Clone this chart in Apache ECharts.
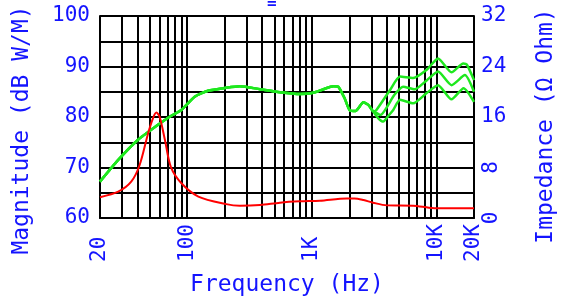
<!DOCTYPE html>
<html>
<head>
    <meta charset="utf-8">
    <title>Frequency response</title>
    <script src="https://cdn.jsdelivr.net/npm/echarts@6/dist/echarts.min.js"></script>
</head>
<body style="margin:0">
    <div id="main" style="width: 561px;height:296px;"></div>
    <script>
        // grid lines of the log frequency axis and its labels
        var gridFreqs = [20, 30, 40, 50, 60, 70, 80, 90, 100, 200, 300, 400, 500, 600, 700, 800, 900,
            1000, 2000, 3000, 4000, 5000, 6000, 7000, 8000, 9000, 10000, 20000];
        var labelFreqs = [20, 100, 1000, 10000, 20000];

        // magnitude, common part below ~3 kHz (dB)
        var lowFreq = [20, 28, 40, 58, 74, 90, 115, 147, 206, 265, 384, 555, 803, 1030, 1240, 1490, 1630, 1840, 2020, 2250, 2590, 2840, 3110];
        var lowDb = [67.2, 71.5, 75.4, 78.4, 80.2, 81.4, 84.0, 85.2, 85.8, 86.1, 85.5, 84.9, 84.55, 84.8, 85.5, 86.1, 86.0, 83.6, 81.3, 81.2, 82.9, 82.4, 81.1];

        // the three curves above 3 kHz
        var topFreq = [3300, 4230, 5100, 6500, 8300, 10300, 13200, 16400, 17500, 20000];
        var topDb = [81.4, 85.3, 88.0, 87.7, 89.3, 91.6, 88.85, 90.6, 90.4, 87.3];
        var midFreq = [3300, 3550, 4600, 5400, 6700, 8300, 10300, 13200, 16900, 20000];
        var midDb = [80.8, 80.4, 84.4, 86.0, 85.5, 87.2, 89.0, 86.3, 88.3, 85.0];
        var botFreq = [3400, 3740, 4200, 4500, 5100, 6500, 8300, 10300, 13200, 16500, 20000];
        var botDb = [79.8, 79.1, 80.5, 81.4, 83.4, 82.7, 84.7, 86.3, 83.5, 85.7, 83.0];

        // impedance (ohm)
        var zFreq = [20, 28, 35.6, 41.6, 48.6, 53.2, 56.6, 60.2, 66.3, 74, 90, 123, 206, 265, 384, 555, 803, 1160, 1900, 2200, 2600, 3100, 4000, 6500, 8700, 10500, 20000];
        var zOhm = [3.3, 4.17, 5.75, 8.4, 13.4, 15.8, 16.7, 16.0, 12.4, 8.1, 5.5, 3.4, 2.2, 1.95, 2.06, 2.43, 2.64, 2.74, 3.1, 3.1, 2.85, 2.43, 2.0, 1.95, 1.63, 1.53, 1.53];

        function pairs(fs, vs) {
            return fs.map(function (f, i) { return [f, vs[i]]; });
        }

        var blue = '#1414ff';
        var green = '#1ee81e';
        var font = 'DejaVu Sans Mono';

        var myChart = echarts.init(document.getElementById('main'));

        var greenLine = function (extraF, extraV) {
            return {
                type: 'line',
                yAxisIndex: 0,
                symbol: 'none',
                smooth: 0.2,
                lineStyle: { color: green, width: 2.5 },
                data: pairs(lowFreq.concat(extraF), lowDb.concat(extraV))
            };
        };

        option = {
            animation: false,
            title: {
                text: '=',
                left: 262,
                top: -9,
                textStyle: { color: blue, fontSize: 16, fontFamily: font, fontWeight: 'bold' }
            },
            grid: { left: 100, right: 87, top: 16, bottom: 78, outerBoundsMode: 'none' },
            xAxis: {
                type: 'log',
                min: 20,
                max: 20000,
                name: 'Frequency (Hz)',
                nameLocation: 'middle',
                nameGap: 56,
                nameTextStyle: { color: blue, fontSize: 23, fontFamily: font },
                axisLine: { show: true, lineStyle: { color: '#000', width: 2 } },
                axisTick: { show: false, customValues: gridFreqs },
                axisLabel: {
                    customValues: labelFreqs,
                    rotate: 90,
                    align: 'left',
                    margin: 44,
                    color: blue,
                    fontSize: 21,
                    fontFamily: font,
                    formatter: function (v) {
                        return v >= 1000 ? (v / 1000) + 'K' : String(v);
                    }
                },
                splitLine: { show: true, lineStyle: { color: '#000', width: 2 } }
            },
            yAxis: [{
                type: 'value',
                min: 60,
                max: 100,
                interval: 5,
                name: 'Magnitude (dB W/M)',
                nameLocation: 'middle',
                nameRotate: 90,
                nameGap: 66,
                nameTextStyle: { color: blue, fontSize: 23, fontFamily: font, padding: [0, 26, 0, 0] },
                axisLine: { show: true, lineStyle: { color: '#000', width: 2 } },
                axisTick: { show: false },
                axisLabel: {
                    color: blue, fontSize: 21, fontFamily: font, margin: 10,
                    formatter: function (v) { return v % 10 === 0 ? String(v) : ''; }
                },
                splitLine: { show: true, lineStyle: { color: '#000', width: 2 } }
            }, {
                type: 'value',
                position: 'right',
                min: 0,
                max: 32,
                interval: 8,
                name: 'Impedance (Ω Ohm)',
                nameLocation: 'middle',
                nameRotate: 90,
                nameGap: 61,
                nameTextStyle: { color: blue, fontSize: 23, fontFamily: font, verticalAlign: 'top', padding: [0, 18, 0, 0] },
                axisLine: { show: true, lineStyle: { color: '#000', width: 2 } },
                axisTick: { show: false },
                axisLabel: {
                    color: blue, fontSize: 21, fontFamily: font, margin: 7,
                    formatter: function (v) { return v >= 16 ? String(v) : ''; }
                },
                splitLine: { show: false }
            }, {
                type: 'value',
                position: 'right',
                min: 0,
                max: 32,
                interval: 8,
                axisLine: { show: false },
                axisTick: { show: false },
                axisLabel: {
                    color: blue, fontSize: 21, fontFamily: font, margin: 7, rotate: 90,
                    formatter: function (v) { return v < 16 ? String(v) : ''; }
                },
                splitLine: { show: false }
            }],
            series: [
                greenLine(topFreq, topDb),
                greenLine(midFreq, midDb),
                greenLine(botFreq, botDb),
                {
                    type: 'line',
                    yAxisIndex: 1,
                    symbol: 'none',
                    smooth: 0.3,
                    lineStyle: { color: '#ff0000', width: 2 },
                    data: pairs(zFreq, zOhm)
                }
            ]
        };

        myChart.setOption(option);
    </script>
</body>
</html>
